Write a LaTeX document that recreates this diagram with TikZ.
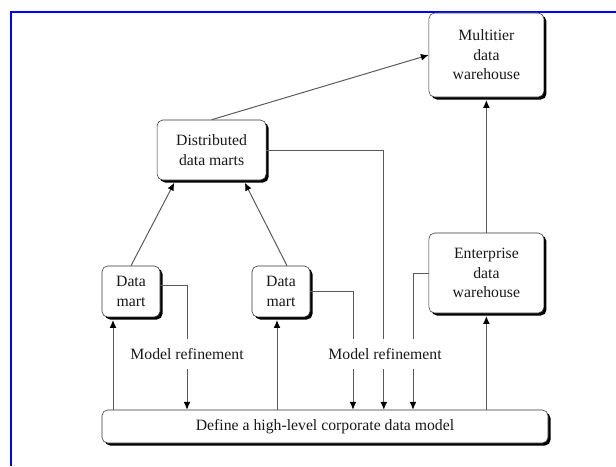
\documentclass[tikz,border=0pt]{standalone}
\usepackage{fontspec}
\setmainfont{Liberation Serif}
\usetikzlibrary{arrows.meta,shadows}

\begin{document}
\begin{tikzpicture}[
    box/.style={draw=black!80, fill=white, rounded corners=4pt, align=center,
        inner sep=0pt, text=black!90, font=\fontsize{11.2}{13.9}\selectfont,
        drop shadow={shadow xshift=1.8pt, shadow yshift=-1.8pt, fill=black, opacity=1}},
    lbl/.style={inner sep=0pt, minimum height=0.75cm, text=black!90,
        font=\fontsize{11.2}{13.9}\selectfont},
    line/.style={draw=black!65, line width=0.7pt},
    arr/.style={line, -{Latex[length=5.5pt,width=4.8pt,black]}}
]
    \useasboundingbox (0,0) rectangle (15.4,11.65);

    % frame
    \draw[blue, line width=1.4pt] (0.275,0) -- (0.275,11.35) -- (15.4,11.35);

    % warehouses and marts
    \node[box, minimum width=2.875cm, minimum height=2.1cm] (multi) at (12.16,10.275) {Multitier\\data\\warehouse};
    \node[box, minimum width=2.725cm, minimum height=1.5cm] (dist) at (5.29,7.9) {Distributed\\data marts};
    \node[box, minimum width=1.45cm, minimum height=1.275cm] (dmA) at (3.275,4.363) {Data\\mart};
    \node[box, minimum width=1.45cm, minimum height=1.275cm] (dmB) at (7.025,4.363) {Data\\mart};
    \node[box, minimum width=2.875cm, minimum height=2cm] (ent) at (12.16,4.825) {Enterprise\\data\\warehouse};

    % corporate model
    \node[box, minimum width=11.15cm, minimum height=0.825cm] (model) at (8.125,0.9875) {Define a high-level corporate data model};

    \node[lbl] (refA) at (4.675,2.8) {Model refinement};
    \node[lbl] (refB) at (9.625,2.8) {Model refinement};

    % building up
    \draw[arr] (dist.north) -- (multi.west);
    \draw[arr, shorten >=2pt] (dmA.north) -- ([xshift=-0.9cm]dist.south);
    \draw[arr, shorten >=2pt] ([xshift=0.15cm]dmB.north) -- ([xshift=0.8cm]dist.south);
    \draw[arr, shorten >=2pt] (ent.north) -- (multi.south);
    \draw[arr, shorten >=2pt] ([xshift=-0.45cm]dmA.south |- model.north) -- ([xshift=-0.45cm]dmA.south);
    \draw[arr, shorten >=2pt] ([xshift=-0.1cm]dmB.south |- model.north) -- ([xshift=-0.1cm]dmB.south);
    \draw[arr, shorten >=2pt] (ent.south |- model.north) -- (ent.south);

    % refinement back to the model
    \draw[line] ([yshift=0.16cm]dmA.east) -| (refA.north);
    \draw[arr] (refA.south) -- (refA.south |- model.north);
    \draw[line] (dmB.east) -| ([xshift=-0.8cm]refB.north);
    \draw[arr] ([xshift=-0.8cm]refB.south) -- ([xshift=-0.8cm]refB.south |- model.north);
    \draw[line] (dist.east) -| ([xshift=-0.03cm]refB.north);
    \draw[arr] ([xshift=-0.03cm]refB.south) -- ([xshift=-0.03cm]refB.south |- model.north);
    \draw[line] (ent.west) -| ([xshift=0.7cm]refB.north);
    \draw[arr] ([xshift=0.7cm]refB.south) -- ([xshift=0.7cm]refB.south |- model.north);
\end{tikzpicture}
\end{document}
